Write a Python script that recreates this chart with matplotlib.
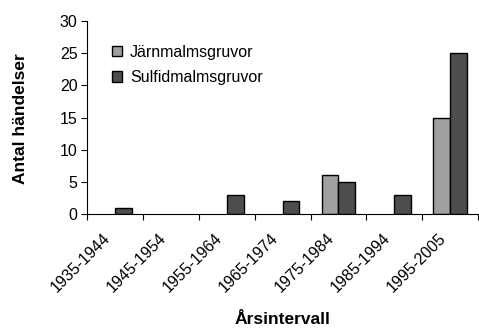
import matplotlib
matplotlib.use("Agg")
import matplotlib.pyplot as plt
import numpy as np

plt.rcParams['font.family'] = ['Liberation Sans', 'DejaVu Sans']

intervals = ["1935-1944", "1945-1954", "1955-1964", "1965-1974",
             "1975-1984", "1985-1994", "1995-2005"]
jarnmalm = [0, 0, 0, 0, 6, 0, 15]
sulfidmalm = [1, 0, 3, 2, 5, 3, 25]

fig = plt.figure(figsize=(4.79, 3.29), dpi=100)
ax = fig.add_axes([0.182, 0.3495, 0.816, 0.5865])

x = np.arange(len(intervals))
w = 0.3
jarn = np.array(jarnmalm, dtype=float)
sulf = np.array(sulfidmalm, dtype=float)
# Empty intervals get no bar at all
jm = jarn > 0
sm = sulf > 0
ax.bar(x[jm] - w / 2, jarn[jm], w, color="#A0A0A0", edgecolor="black",
       linewidth=1.0, label="Järnmalmsgruvor")
ax.bar(x[sm] + w / 2, sulf[sm], w, color="#4D4D4D", edgecolor="black",
       linewidth=1.0, label="Sulfidmalmsgruvor")

ax.set_xlim(-0.5, len(intervals) - 0.5)
ax.set_ylim(0, 30)
ax.set_yticks(range(0, 31, 5))
ax.tick_params(axis="y", labelsize=11.5, length=4, width=0.8, pad=3)

# Category boundaries carry the tick marks, labels sit at category centres
ax.set_xticks(np.arange(len(intervals) + 1) - 0.5)
ax.set_xticklabels([])
ax.tick_params(axis="x", length=4, width=0.8, direction="out")
for xi, lab in zip(x, intervals):
    ax.text(xi - 0.22, -2.6, lab, rotation=45, ha="right", va="top",
            rotation_mode="anchor", fontsize=11.5)

for s in ["top", "right"]:
    ax.spines[s].set_visible(False)
ax.spines["left"].set_linewidth(0.8)
ax.spines["bottom"].set_linewidth(0.8)

fig.text(0.042, 0.64, "Antal händelser", fontsize=12.5, fontweight="bold",
         rotation=90, ha="center", va="center")
fig.text(0.59, 0.005, "Årsintervall", fontsize=12.5, fontweight="bold",
         ha="center", va="bottom")

ax.legend(loc="upper left", bbox_to_anchor=(0.048, 0.91), frameon=False,
          fontsize=11.5, handlelength=0.6, handleheight=0.6, handletextpad=0.5,
          labelspacing=0.65, borderaxespad=0)

fig.savefig("out.png", dpi=100)
